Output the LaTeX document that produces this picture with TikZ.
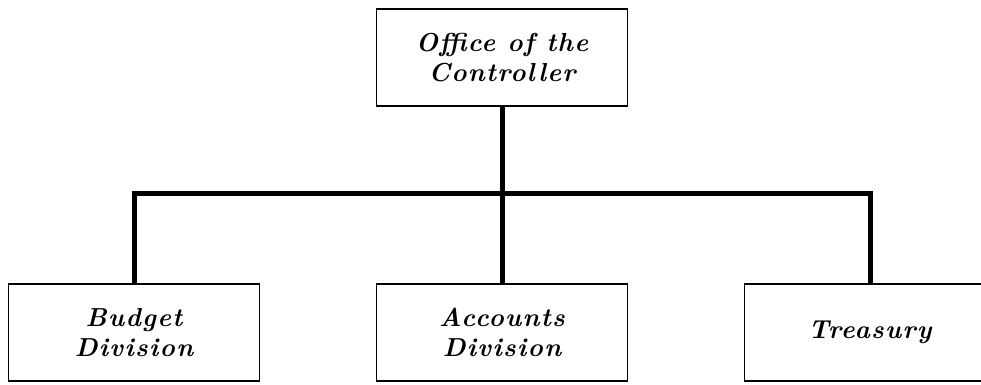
\documentclass[tikz,border=0pt]{standalone}
\usepackage{fontspec}
\usepackage{tikz}
\usetikzlibrary{positioning}
\newfontfamily\chartfont[LetterSpace=5]{Latin Modern Roman}

\begin{document}
\begin{tikzpicture}[x=1pt,y=1pt,
  unit/.style={draw,rectangle,line width=1.2pt,minimum width=251pt,minimum height=97pt,align=center,
    font=\chartfont\fontsize{26}{30}\selectfont\bfseries\itshape},
  level/.style={sibling distance=368pt, level distance=275pt},
  edge from parent/.style={draw,line width=5pt},
  edge from parent path={(\tikzparentnode.south) -- ++(0,-87) -| (\tikzchildnode.north)}]
\useasboundingbox (0,0) rectangle (981,-384);
\node [unit](ctrl) at (502,-57.5){Office of the\\Controller}
  child { node[unit](budget){Budget\\Division} }
  child { node[unit](accounts){Accounts\\Division} }
  child { node[unit](treasury){Treasury} };
\end{tikzpicture}
\end{document}
